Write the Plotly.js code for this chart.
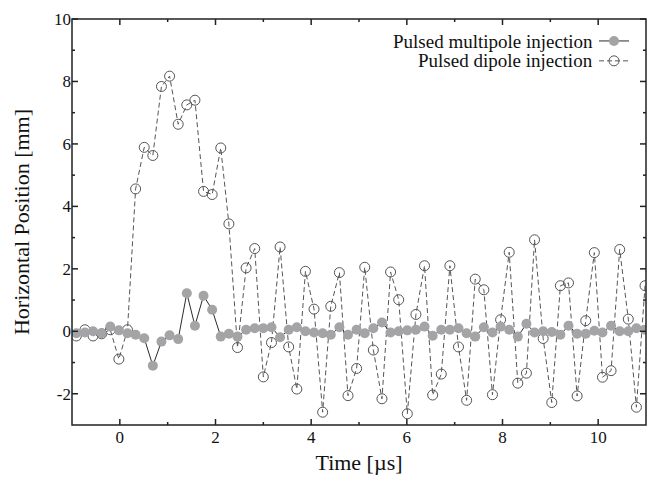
<!DOCTYPE html>
<html>
<head>
<meta charset="utf-8">
<script src="https://cdn.plot.ly/plotly-3.0.1.min.js"></script>
<style>html,body{margin:0;padding:0;background:#fff;}#chart{width:647px;height:485px;}</style>
</head>
<body>
<div id="chart"></div>
<script>
// Sample times [µs]
const time = [-0.91,-0.73,-0.56,-0.38,-0.20,-0.02,0.16,0.33,0.51,0.69,0.87,1.04,1.22,1.40,1.57,1.75,1.93,2.11,2.28,2.46,
  2.64,2.82,3.00,3.17,3.35,3.53,3.70,3.88,4.06,4.24,4.41,4.59,4.77,4.95,5.12,5.30,5.48,5.66,5.83,6.01,
  6.19,6.37,6.54,6.72,6.90,7.08,7.25,7.43,7.61,7.79,7.96,8.14,8.32,8.50,8.67,8.85,9.03,9.21,9.38,9.56,
  9.74,9.92,10.09,10.27,10.45,10.63,10.80,10.98];
// Pulsed multipole injection [mm]
const multipole = [-0.06,-0.04,0.00,-0.06,0.15,0.03,-0.06,-0.11,-0.22,-1.10,-0.33,-0.13,-0.25,1.22,0.18,1.14,0.69,-0.17,-0.08,-0.17,
  0.05,0.10,0.10,0.13,-0.19,0.05,0.13,0.00,-0.04,-0.06,-0.11,0.13,-0.11,0.05,-0.06,0.10,0.28,-0.04,0.00,0.03,
  0.05,0.15,-0.14,0.05,0.05,0.10,-0.06,-0.17,0.13,-0.04,0.15,0.05,-0.17,0.24,-0.04,0.00,-0.02,-0.11,0.18,-0.08,
  -0.08,0.02,-0.04,0.18,0.00,0.00,0.10,0.05];
// Pulsed dipole injection [mm]
const dipole = [-0.15,0.05,-0.15,-0.08,0.05,-0.89,0.05,4.56,5.89,5.63,7.84,8.17,6.63,7.25,7.40,4.48,4.38,5.87,3.44,-0.52,
  2.03,2.65,-1.46,-0.36,2.70,-0.50,-1.85,1.92,0.71,-2.59,0.80,1.88,-2.06,-1.19,2.05,-0.60,-2.16,1.90,1.01,-2.64,
  0.54,2.10,-2.04,-1.37,2.10,-0.50,-2.21,1.67,1.33,-2.03,0.37,2.53,-1.66,-1.34,2.93,-0.23,-2.28,1.46,1.55,-2.07,
  0.34,2.52,-1.47,-1.26,2.62,0.39,-2.43,1.46];

const seriesNames = ['Pulsed multipole injection', 'Pulsed dipole injection'];
const xRange = [-1, 11];
const yRange = [-3, 10];
const xTickVals = [0, 2, 4, 6, 8, 10];
const xTickText = ['0', '2', '4', '6', '8', '10'];
const xMinorVals = [1, 3, 5, 7, 9];
const yTickVals = [-2, 0, 2, 4, 6, 8, 10];
const yTickText = ['-2', '0', '2', '4', '6', '8', '10'];
const yMinorVals = [-1, 1, 3, 5, 7, 9];

const FONT = 'Liberation Serif';
const TEXT = '#111111';
const FRAME = '#222222';
const W = 647, H = 485, M = {l: 72, r: 1, t: 19, b: 60};
const plotW = W - M.l - M.r, plotH = H - M.t - M.b;

const dipoleStyle = {
  line: {color: '#555555', width: 1, dash: '5px,3px'},
  marker: {symbol: 'circle-open', size: 10, color: '#555555', line: {width: 1, color: '#555555'}}
};
const multiStyle = {
  line: {color: '#2a2a2a', width: 1},
  marker: {symbol: 'circle', size: 10, color: '#a4a4a7', line: {width: 0}}
};

const traces = [
  Object.assign({x: time, y: dipole, name: seriesNames[1], type: 'scatter', mode: 'lines+markers', showlegend: false}, dipoleStyle),
  Object.assign({x: time, y: multipole, name: seriesNames[0], type: 'scatter', mode: 'lines+markers', showlegend: false}, multiStyle),
  // legend swatches only (no data)
  Object.assign({x: [null], y: [null], name: '', type: 'scatter', mode: 'lines+markers', showlegend: true}, multiStyle),
  Object.assign({x: [null], y: [null], name: '', type: 'scatter', mode: 'lines+markers', showlegend: true}, dipoleStyle)
];

// Frame and inside, mirrored tick marks (all in paper coordinates of the plot area)
const px = v => (v - xRange[0]) / (xRange[1] - xRange[0]);
const py = v => (v - yRange[0]) / (yRange[1] - yRange[0]);
const shapes = [
  {type: 'rect', xref: 'paper', yref: 'paper', x0: 0, x1: 1, y0: 0, y1: 1, line: {color: FRAME, width: 1.5}}
];
function xTicks(vals, len) {
  vals.forEach(v => {
    shapes.push({type: 'line', xref: 'paper', yref: 'paper', x0: px(v), x1: px(v), y0: 0, y1: len / plotH, line: {color: FRAME, width: 1.5}});
    shapes.push({type: 'line', xref: 'paper', yref: 'paper', x0: px(v), x1: px(v), y0: 1, y1: 1 - len / plotH, line: {color: FRAME, width: 1.5}});
  });
}
function yTicks(vals, len) {
  vals.forEach(v => {
    shapes.push({type: 'line', xref: 'paper', yref: 'paper', y0: py(v), y1: py(v), x0: 0, x1: len / plotW, line: {color: FRAME, width: 1.5}});
    shapes.push({type: 'line', xref: 'paper', yref: 'paper', y0: py(v), y1: py(v), x0: 1, x1: 1 - len / plotW, line: {color: FRAME, width: 1.5}});
  });
}
xTicks(xTickVals, 6); xTicks(xMinorVals, 3);
yTicks(yTickVals, 6); yTicks(yMinorVals, 3);

const layout = {
  width: W, height: H,
  margin: M,
  paper_bgcolor: 'white', plot_bgcolor: 'white',
  font: {family: FONT, color: TEXT},
  xaxis: {
    range: xRange, tickmode: 'array', tickvals: xTickVals, ticktext: xTickText,
    showline: false, ticks: '', showgrid: false, zeroline: false,
    tickfont: {family: FONT, size: 17, color: TEXT},
    title: {text: 'Time [µs]', font: {family: FONT, size: 22, color: TEXT}, standoff: 8}
  },
  yaxis: {
    range: yRange, tickmode: 'array', tickvals: yTickVals, ticktext: yTickText,
    showline: false, ticks: '', showgrid: false, zeroline: false,
    tickfont: {family: FONT, size: 17, color: TEXT},
    title: {text: 'Horizontal Position [mm]', font: {family: FONT, size: 22, color: TEXT}, standoff: 18}
  },
  shapes: shapes,
  showlegend: true,
  legend: {
    x: (594 - 72) / 574, xanchor: 'left', y: 1 - 7 / 406, yanchor: 'top',
    bgcolor: 'rgba(0,0,0,0)', borderwidth: 0,
    font: {family: FONT, size: 13}, tracegroupgap: 0, itemwidth: 30
  },
  annotations: [
    {text: seriesNames[0], xref: 'paper', yref: 'paper', x: (595 - 72) / 574, y: (425 - 41) / 406,
     xanchor: 'right', yanchor: 'middle', showarrow: false, font: {family: FONT, size: 19, color: TEXT}},
    {text: seriesNames[1], xref: 'paper', yref: 'paper', x: (595 - 72) / 574, y: (425 - 60) / 406,
     xanchor: 'right', yanchor: 'middle', showarrow: false, font: {family: FONT, size: 19, color: TEXT}}
  ]
};

Plotly.newPlot('chart', traces, layout, {displayModeBar: false});
</script>
</body>
</html>
